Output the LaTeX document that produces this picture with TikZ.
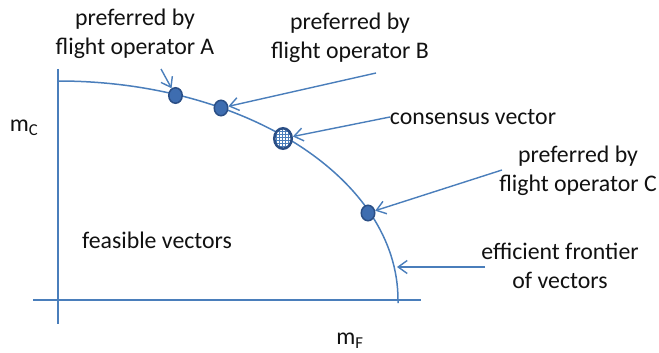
\documentclass[tikz,border=0pt]{standalone}
\usepackage{fontspec}
\setmainfont{Carlito}
\usetikzlibrary{arrows.meta, shapes.geometric, patterns}
\definecolor{lineblue}{HTML}{4A7EBB}
\definecolor{dotCol}{HTML}{3E6DB0}
\definecolor{dotEdge}{HTML}{2A4E85}
\definecolor{textdark}{HTML}{111111}

\begin{document}
\begin{tikzpicture}[
    x=1pt, y=-1pt,
    >={Straight Barb[length=9pt, width=13pt]},
    axisline/.style={lineblue, line width=1.8pt},
    pointer/.style={->, lineblue, line width=1.4pt},
    txt/.style={text=textdark, font=\fontsize{23.8}{29}\selectfont, align=center, inner sep=0pt},
    dot/.style={ellipse, draw=dotEdge, fill=dotCol, line width=1.5pt, inner sep=0pt, minimum width=13.5pt, minimum height=15.5pt},
    consdot/.style={ellipse, draw=dotEdge, line width=2.5pt, inner sep=0pt, minimum width=17.5pt, minimum height=20.5pt,
        preaction={fill=white}, pattern=grid, pattern color=lineblue}
]
\useasboundingbox (0,0) rectangle (659,353);

% --- 1. AXES AND FRONTIER ---
\draw[axisline] (58,69) -- (58,324);
\draw[axisline] (33,300) -- (421,300);
\draw[lineblue, line width=1.5pt] (58,81) .. controls (245.8,81) and (398,179) .. (398,300) -- (398,303);

\node[txt] (mC) at (24,128) {m\textsubscript{C}};
\node[txt] (mF) at (350,341) {m\textsubscript{F}};
\node[txt] (feasible) at (157,240) {feasible vectors};

% --- 2. VECTORS ON THE FRONTIER ---
\node[dot] (dotA) at (175.5,95.5) {};
\node[dot] (dotB) at (221,108) {};
\node[consdot] (dotCons) at (283,138.5) {};
\node[dot] (dotC) at (368,213) {};
\coordinate (frontPt) at (397,267);

% --- 3. LABELS ---
\node[txt] (labA) at (135,34) {preferred by\\flight operator A};
\node[txt] (labB) at (350,38) {preferred by\\flight operator B};
\node[txt] (labCons) at (473,117) {consensus vector};
\node[txt] (labC) at (578,171) {preferred by\\flight operator C};
\node[txt] (labFront) at (560,266) {efficient frontier\\of vectors};

\coordinate (startA) at (161,69);
\coordinate (startB) at (376,73);
\coordinate (startCons) at (390,117);
\coordinate (startC) at (502,170);
\coordinate (startFront) at (485,267);

% --- 4. POINTERS ---
\draw[pointer] (startA) -- (dotA);
\draw[pointer] (startB) -- (dotB);
\draw[pointer] (startCons) -- (dotCons);
\draw[pointer] (startC) -- (dotC);
\draw[pointer] (startFront) -- (frontPt);

\end{tikzpicture}
\end{document}
